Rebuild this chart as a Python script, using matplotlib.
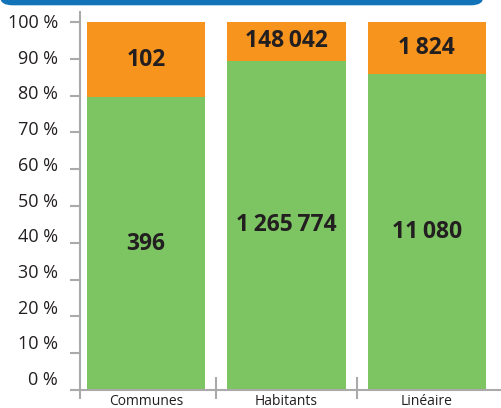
import matplotlib
matplotlib.use("Agg")
import matplotlib.pyplot as plt
from matplotlib.patches import FancyBboxPatch
import numpy as np

## data ##
categories = ['Communes', 'Habitants', 'Linéaire']
green_vals = [396, 1265774, 11080]
orange_vals = [102, 148042, 1824]
green_txt = ['396', '1\u2009265\u2009774', '11\u2009080']
orange_txt = ['102', '148\u2009042', '1\u2009824']
yticks = [0, 10, 20, 30, 40, 50, 60, 70, 80, 90, 100]
ytick_labels = ['%d %%' % v for v in yticks]

green = '#7dc462'
orange = '#f7941d'
grey = '#aaaaaa'
txt = '#231f20'

plt.rcParams['font.family'] = ['Open Sans', 'DejaVu Sans']

## percent shares ##
g = np.array(green_vals, dtype=float)
o = np.array(orange_vals, dtype=float)
tot = g + o
g_pct = g / tot * 100
o_pct = o / tot * 100

fig = plt.figure(figsize=(5.01, 4.08), dpi=100)

## blue banner at the top ##
banner = FancyBboxPatch((0.0, 0.987), 0.965, 0.05,
                        boxstyle='round,pad=0,rounding_size=0.025',
                        transform=fig.transFigure, facecolor='#1273b9',
                        edgecolor='none', mutation_aspect=408/501)
fig.patches.append(banner)

ax = fig.add_axes([80/501, 1 - 390/408, 1 - 80/501, (390 - 12)/408])
x = np.arange(len(categories))
w = 118/140

ax.bar(x, g_pct, width=w, color=green, zorder=2)
ax.bar(x, o_pct, width=w, bottom=g_pct, color=orange, zorder=2)

## labels in the middle of each segment ##
for i in range(len(categories)):
    ax.text(x[i], g_pct[i]/2, green_txt[i], ha='center', va='center',
            fontsize=16.5, fontweight='bold', color=txt)
    ax.text(x[i], g_pct[i] + o_pct[i]/2, orange_txt[i], ha='center', va='center',
            fontsize=16.5, fontweight='bold', color=txt)

ax.set_xlim(-66/140, 2 + 74/140)
ax.set_ylim(0, 100*378/368)

## y ticks; the labels sit on a slightly tighter scale than the ticks ##
ax.set_yticks(yticks)
ax.set_yticklabels([])
ax.tick_params(axis='y', length=7, width=1.5, color=grey)
ytrans = ax.get_yaxis_transform()
for v, lab in zip(yticks, ytick_labels):
    ax.text(-22/421, 2.72 + 0.970*v, lab, transform=ytrans, ha='right',
            va='center', fontsize=13, color=txt)

ax.set_xticks(x)
ax.set_xticklabels(categories, fontsize=10, color=txt)
ax.tick_params(axis='x', length=0, pad=3)

for s in ['top', 'right']:
    ax.spines[s].set_visible(False)
for s in ['left', 'bottom']:
    ax.spines[s].set_color(grey)
    ax.spines[s].set_linewidth(1.5)

## extend the y axis below and draw separators between categories ##
trans = ax.get_xaxis_transform()
ax.plot([-66/140, -66/140], [0, -8/378], transform=trans, color=grey,
        lw=1.5, clip_on=False)
for sx in [0.5, 1.5]:
    ax.plot([sx, sx], [12/378, -8/378], transform=trans, color=grey,
            lw=1.5, clip_on=False, zorder=3)

plt.savefig('out.png', dpi=100)
